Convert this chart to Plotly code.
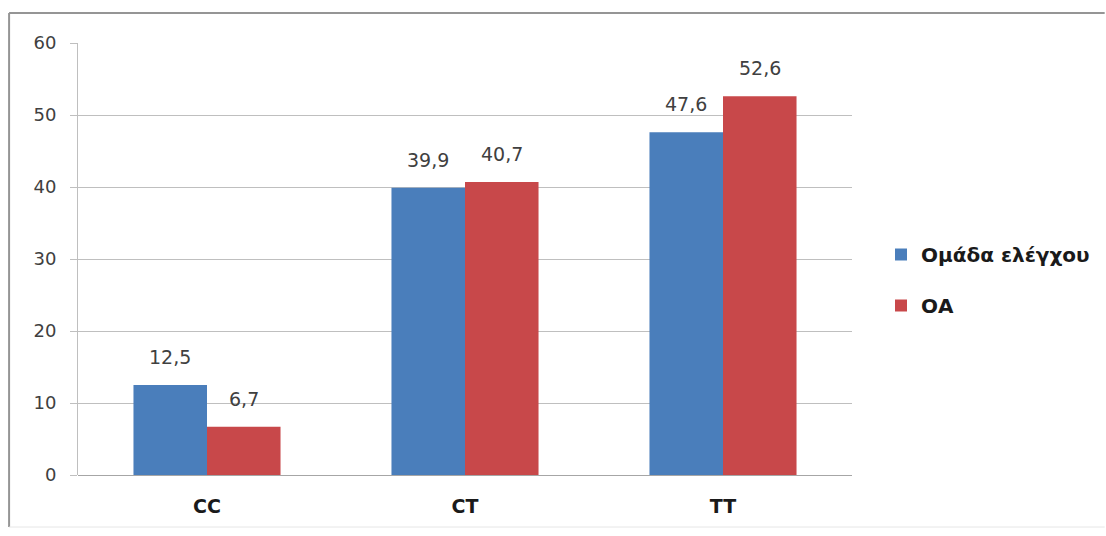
import plotly.graph_objects as go

categories = ["CC", "CT", "TT"]
control_values = [12.5, 39.9, 47.6]
oa_values = [6.7, 40.7, 52.6]
series_names = ["Ομάδα ελέγχου", "ΟΑ"]
y_ticks = [0, 10, 20, 30, 40, 50, 60]

W, H = 1106, 536
L, R, T, B = 78, 253, 43, 61
pw, ph = W - L - R, H - T - B
BARGAP = 0.43
bar_px = pw / len(categories) * (1 - BARGAP) / 2

colors = ["#4a7ebb", "#c8484a"]

fig = go.Figure()
for name, vals, col in zip(series_names, [control_values, oa_values], colors):
    fig.add_trace(go.Bar(
        x=categories, y=vals, name=name, legendgroup=name,
        marker=dict(color=col, line=dict(width=0)),
    ))

annotations = []
for k, vals in enumerate([control_values, oa_values]):
    shift = (-0.5 if k == 0 else 0.5) * bar_px
    for c, v in zip(categories, vals):
        annotations.append(dict(
            x=c, y=v, xref="x", yref="y",
            text=f"{v:.1f}".replace(".", ","),
            showarrow=False, xshift=shift, yshift=15,
            yanchor="bottom", xanchor="center",
            font=dict(family="DejaVu Sans", size=19, color="#404040"),
        ))

fig.update_layout(
    width=W, height=H,
    margin=dict(l=L, r=R, t=T, b=B),
    paper_bgcolor="white", plot_bgcolor="white",
    separators=",.",
    barmode="group", bargap=BARGAP, bargroupgap=0,
    font=dict(family="DejaVu Sans", size=18, color="#404040"),
    showlegend=True,
    legend=dict(
        x=(881 - L) / pw, xanchor="left",
        y=(475 - 280) / ph, yanchor="middle",
        font=dict(family="DejaVu Sans", size=20, color="#1a1a1a", weight="bold"),
        tracegroupgap=22,
        bgcolor="rgba(0,0,0,0)",
    ),
    xaxis=dict(
        showgrid=False, showline=False, ticks="",
        ticklabelstandoff=18,
        tickfont=dict(family="DejaVu Sans", size=19, color="#1a1a1a", weight="bold"),
    ),
    yaxis=dict(
        range=[0, 60], tickvals=y_ticks, ticktext=[str(v) for v in y_ticks],
        showgrid=True, gridcolor="#bfbfbf", gridwidth=1,
        showline=True, linecolor="#bfbfbf", linewidth=1,
        ticks="outside", ticklen=7, tickcolor="#bfbfbf",
        ticklabelstandoff=10,
        tickfont=dict(family="DejaVu Sans", size=18, color="#404040"),
        zeroline=True, zerolinecolor="#a6a6a6", zerolinewidth=1,
    ),
    annotations=annotations,
    shapes=[
        dict(type="line", xref="paper", yref="paper",
             x0=(9 - L) / pw, x1=(W - L) / pw,
             y0=1 + (T - 13) / ph, y1=1 + (T - 13) / ph,
             line=dict(color="#959595", width=2)),
        dict(type="line", xref="paper", yref="paper",
             x0=(9 - L) / pw, x1=(9 - L) / pw,
             y0=1 + (T - 13) / ph, y1=-(527 - (H - B)) / ph,
             line=dict(color="#959595", width=2)),
        dict(type="line", xref="paper", yref="paper",
             x0=(9 - L) / pw, x1=(W - L) / pw,
             y0=-(527 - (H - B)) / ph, y1=-(527 - (H - B)) / ph,
             line=dict(color="#e6e6e6", width=1)),
    ],
)

fig.write_html("out.html")
